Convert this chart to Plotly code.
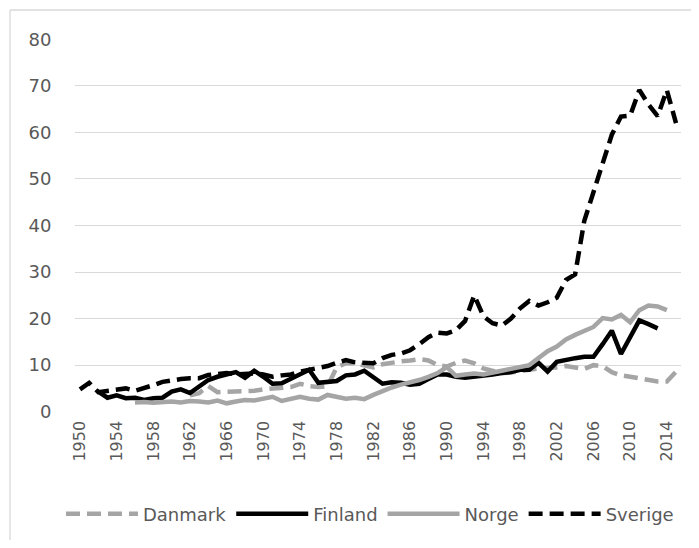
import plotly.graph_objects as go

years = list(range(1950, 2016))

danmark = [None]*12 + [
    3.5, 4.0, 5.5, 4.2, 4.3, 4.3, 4.4, 4.5,          # 1962-1969
    4.8, 5.0, 5.0, 5.3, 6.0, 5.5, 5.3, 5.5, 9.5, 10.4,  # 1970-1979
    10.4, 10.0, 9.5, 10.2, 10.6, 10.8, 11.0, 11.3, 11.0, 10.0,  # 1980-1989
    9.7, 10.5, 11.0, 10.4, 9.3, 8.8, 8.3, 8.4, 8.8, 9.0,  # 1990-1999
    9.3, 9.3, 9.5, 9.8, 9.5, 9.2, 10.0, 9.8, 8.5, 7.8,  # 2000-2009
    7.5, 7.2, 7.0, 6.5, 6.5, 8.6,                      # 2010-2015
]

finland = [None, None,
    4.3, 3.0, 3.5, 2.9, 3.0, 2.5, 2.9, 3.0,            # 1952-1959
    4.3, 4.8, 4.0, 5.5, 6.8, 7.5, 8.0, 8.5, 7.3, 8.8,  # 1960-1969
    7.5, 6.0, 6.1, 7.0, 8.0, 9.0, 6.2, 6.5, 6.6, 7.8,  # 1970-1979
    8.0, 8.8, 7.5, 6.0, 6.3, 6.2, 5.8, 6.0, 7.0, 8.0,  # 1980-1989
    8.0, 7.5, 7.3, 7.5, 7.6, 8.0, 8.3, 8.5, 9.0, 9.0,  # 1990-1999
    10.5, 8.6, 10.7, 11.2, 11.5, 11.8, 11.8, 14.5, 17.4, 12.4,  # 2000-2009
    15.8, 19.6, 18.8, 17.9, None, None,                # 2010-2015
]

norge = [None]*6 + [
    2.0, 2.1, 1.9, 2.1,                                # 1956-1959
    2.2, 2.0, 2.3, 2.2, 2.0, 2.4, 1.8, 2.2, 2.5, 2.4,  # 1960-1969
    2.8, 3.2, 2.3, 2.7, 3.2, 2.8, 2.6, 3.6, 3.2, 2.8,  # 1970-1979
    3.0, 2.7, 3.6, 4.5, 5.2, 5.8, 6.2, 6.8, 7.5, 8.3,  # 1980-1989
    9.6, 7.7, 8.0, 8.2, 8.0, 8.3, 8.8, 9.2, 9.5, 10.0, # 1990-1999
    11.5, 13.0, 14.0, 15.5, 16.5, 17.3, 18.2, 20.1, 19.8, 20.8,  # 2000-2009
    19.2, 21.8, 22.8, 22.6, 21.8, None,                # 2010-2015
]

sverige = [
    4.8, 6.2, 4.2, 4.5, 4.8, 5.0, 4.5, 5.0, 5.7, 6.4,  # 1950-1959
    6.8, 7.0, 7.2, 7.2, 7.9, 8.2, 8.3, 8.0, 8.2, 8.2,  # 1960-1969
    8.0, 7.5, 7.8, 8.0, 8.6, 9.0, 9.5, 9.8, 10.5, 11.1,  # 1970-1979
    10.6, 10.4, 10.4, 11.5, 12.2, 12.5, 13.2, 14.5, 16.0, 17.0,  # 1980-1989
    16.8, 17.5, 19.5, 25.0, 20.5, 19.0, 18.5, 20.0, 22.2, 23.8,  # 1990-1999
    22.8, 23.5, 24.5, 28.3, 29.5, 41.0, 47.0, 53.0, 59.5, 63.4,  # 2000-2009
    63.6, 69.1, 66.0, 63.5, 69.1, 62.0,                # 2010-2015
]

tick_years = list(range(1950, 2015, 4))

GRAY = "#A5A5A5"
TXT = "#595959"
FONT = "DejaVu Sans, sans-serif"

fig = go.Figure()
series = [
    ("Danmark", danmark, GRAY, "14px,7px"),
    ("Finland", finland, "#000000", "solid"),
    ("Norge", norge, GRAY, "solid"),
    ("Sverige", sverige, "#000000", "14px,7px"),
]
for name, vals, col, dash in series:
    fig.add_trace(go.Scatter(
        x=years, y=vals, name=name, mode="lines",
        line=dict(color=col, width=4.5, dash=dash),
        connectgaps=False,
    ))

fig.update_layout(
    width=683, height=532,
    margin=dict(l=2, r=0, t=2, b=0, autoexpand=False),
    paper_bgcolor="white", plot_bgcolor="white",
    font=dict(family=FONT, size=17, color=TXT),
    showlegend=True,
    legend=dict(orientation="h", x=0.5286, xanchor="center", y=0.049, yanchor="middle",
                font=dict(size=18, color=TXT), itemwidth=72, traceorder="normal",
                bgcolor="rgba(0,0,0,0)"),
    xaxis=dict(domain=[0.0960, 0.9847], range=[1949.5, 2015.5], tickvals=tick_years,
               ticktext=[str(y) for y in tick_years], tickangle=-90,
               showgrid=False, zeroline=False, showline=False, ticks="",
               tickfont=dict(size=16, color=TXT), ticklabelstandoff=5),
    yaxis=dict(domain=[0.2421, 0.9447], range=[0, 80], dtick=10, showgrid=True,
               gridcolor="#D9D9D9", gridwidth=1.3,
               zeroline=False, showline=False, ticks="",
               tickfont=dict(size=18, color=TXT), ticklabelstandoff=23),
    shapes=[
        dict(type="line", xref="paper", yref="paper", x0=0, x1=1, y0=1, y1=1,
             line=dict(color="#D9D9D9", width=1.3)),
        dict(type="line", xref="paper", yref="paper", x0=0, x1=0, y0=0, y1=1,
             line=dict(color="#D9D9D9", width=1.3)),
    ],
)

fig.write_html("out.html")
